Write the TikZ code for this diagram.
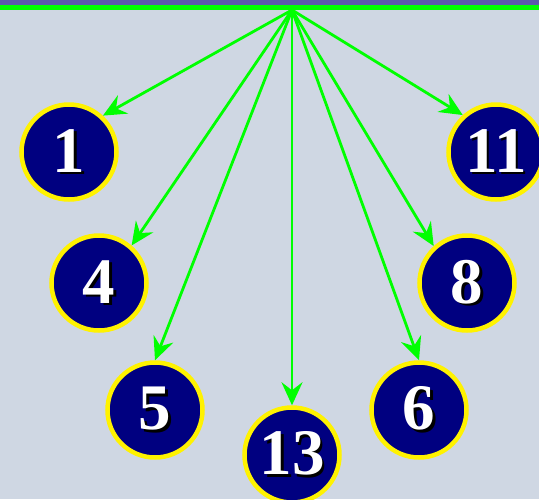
\documentclass[tikz,border=0pt]{standalone}
\usepackage{fontspec}
\setmainfont{Liberation Serif}
\usetikzlibrary{arrows.meta}
\definecolor{bgblue}{HTML}{CFD7E3}
\definecolor{topband}{HTML}{5A5AAA}
\definecolor{navyball}{HTML}{000080}
\definecolor{arrowgreen}{HTML}{00FF00}
\newcommand{\shadenum}[1]{\rlap{\kern2.5pt\raisebox{-2.5pt}{\color{black}#1}}{\color{white}#1}}
\begin{document}
\begin{tikzpicture}[x=1pt,y=-1pt,
    ball/.style={circle,draw=yellow,line width=4.5pt,fill=navyball,minimum size=95pt,inner sep=0pt,
      font=\fontsize{65}{65}\selectfont\bfseries},
    arr/.style={arrowgreen,line width=2.8pt,-{Stealth[length=23pt,width=21pt,inset=8pt]}}]
      \fill[bgblue] (0,0) rectangle (539,499);
      \useasboundingbox (0,0) rectangle (539,499);
      \fill[topband] (0,0) rectangle (539,5);
      \fill[arrowgreen] (0,5) rectangle (539,9.5);
      \coordinate (top) at (292,10);
      \node[ball] (n1) at (69,152) {\shadenum{1}};
      \node[ball] (n11) at (496,152) {\shadenum{11}};
      \node[ball] (n4) at (99,283) {\shadenum{4}};
      \node[ball] (n8) at (467,283) {\shadenum{8}};
      \node[ball] (n5) at (155,410) {\shadenum{5}};
      \node[ball] (n6) at (419,410) {\shadenum{6}};
      \node[ball] (n13) at (292,455) {\shadenum{13}};
      \draw[arr] (top) -- (n1.47);
      \draw[arr] (top) -- (n4.49);
      \draw[arr] (top) -- (n5.north);
      \draw[arr] (top) -- (n13.north);
      \draw[arr] (top) -- (n6.north);
      \draw[arr] (top) -- (n8.132);
      \draw[arr] (top) -- (n11.132);
    \end{tikzpicture}
\end{document}
